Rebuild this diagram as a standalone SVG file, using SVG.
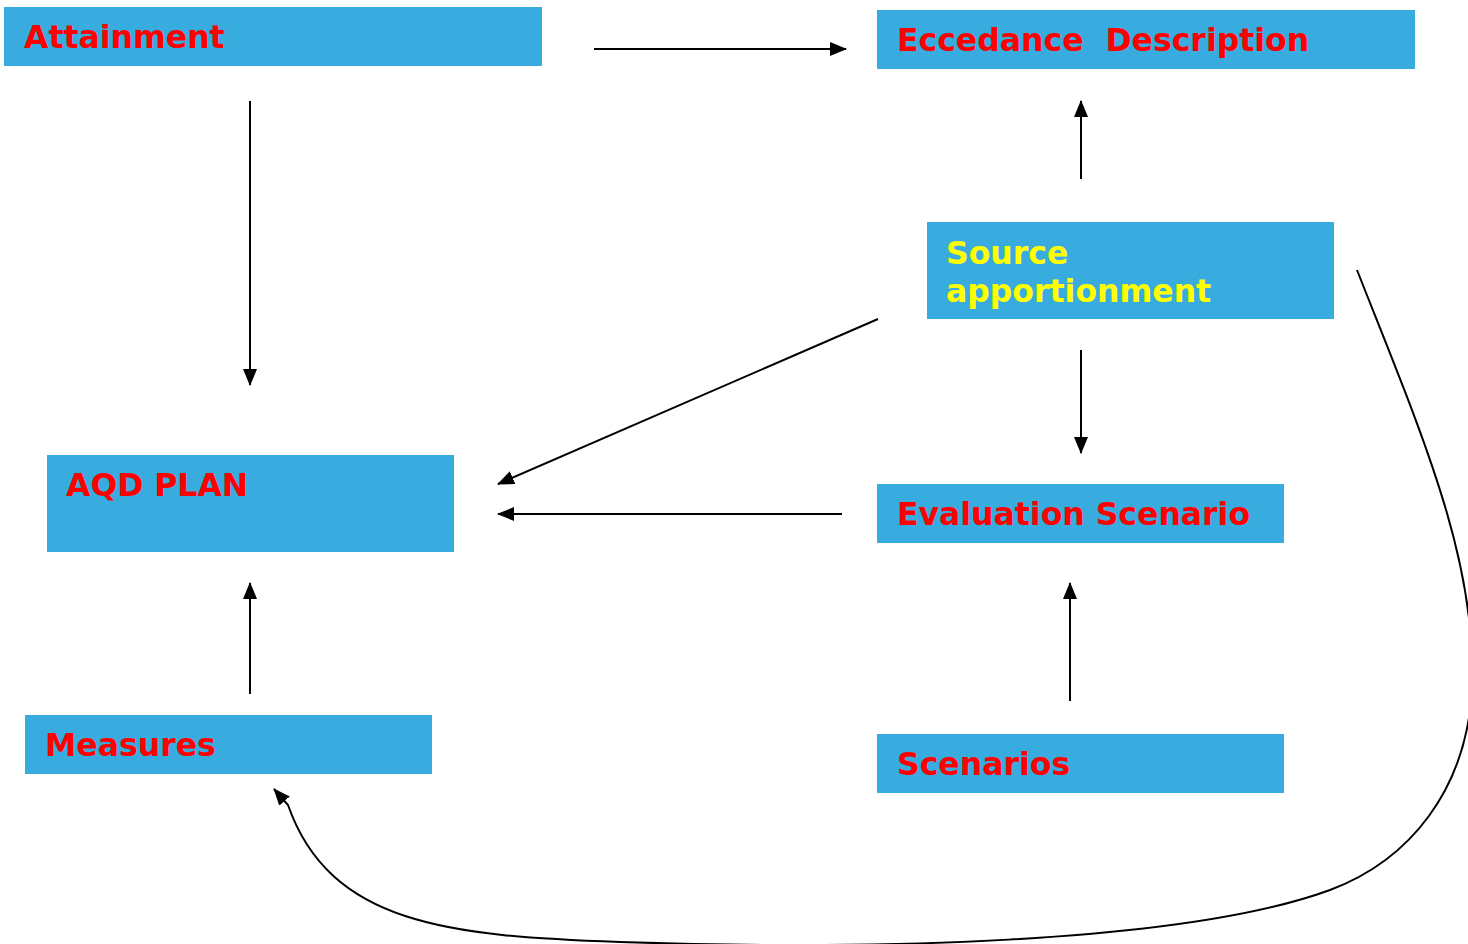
<svg xmlns="http://www.w3.org/2000/svg" width="1468" height="944" viewBox="0 0 1468 944">
<style>
.box{fill:#38ACDE}
.t{font-family:"DejaVu Sans",Verdana,sans-serif;font-weight:bold;font-size:31.5px;fill:#FF0000}
.y{fill:#FFFF00}
.c{stroke:#000;stroke-width:2;fill:none;marker-end:url(#ah)}
</style>
<defs>
<marker id="ah" markerUnits="userSpaceOnUse" markerWidth="17" markerHeight="14" refX="16" refY="7" orient="auto">
<path d="M0,0 L17,7 L0,14 Z" fill="#000"/>
</marker>
</defs>
<rect width="1468" height="944" fill="#fff"/>
<g id="attainment"><rect class="box" x="4" y="7" width="538" height="59"/><text class="t" x="24" y="48">Attainment</text></g>
<g id="eccedance"><rect class="box" x="877" y="10" width="538" height="59"/><text class="t" x="897" y="51" xml:space="preserve">Eccedance  Description</text></g>
<g id="source"><rect class="box" x="927" y="222" width="407" height="97"/><text class="t y" x="946" y="264">Source</text><text class="t y" x="946" y="302">apportionment</text></g>
<g id="aqd"><rect class="box" x="47" y="455" width="407" height="97"/><text class="t" x="66" y="496">AQD PLAN</text></g>
<g id="evaluation"><rect class="box" x="877" y="484" width="407" height="59"/><text class="t" x="897" y="525">Evaluation Scenario</text></g>
<g id="measures"><rect class="box" x="25" y="715" width="407" height="59"/><text class="t" x="45" y="756">Measures</text></g>
<g id="scenarios"><rect class="box" x="877" y="734" width="407" height="59"/><text class="t" x="897" y="775">Scenarios</text></g>
<g id="connectors">
<line class="c" x1="594" y1="49" x2="846" y2="49"/>
<line class="c" x1="250" y1="101" x2="250" y2="385"/>
<line class="c" x1="1081" y1="179" x2="1081" y2="101"/>
<line class="c" x1="1081" y1="350" x2="1081" y2="453"/>
<line class="c" x1="878" y1="319" x2="498" y2="484"/>
<line class="c" x1="842" y1="514" x2="498" y2="514"/>
<line class="c" x1="250" y1="694" x2="250" y2="583"/>
<line class="c" x1="1070" y1="701" x2="1070" y2="583"/>
<path class="c" d="M1357,270 C1420,430 1478,560 1472,690 C1466,790 1410,860 1330,890 C1180,945 860,950 620,942 C450,936 330,925 288,805 L274,789"/>
</g>
</svg>
